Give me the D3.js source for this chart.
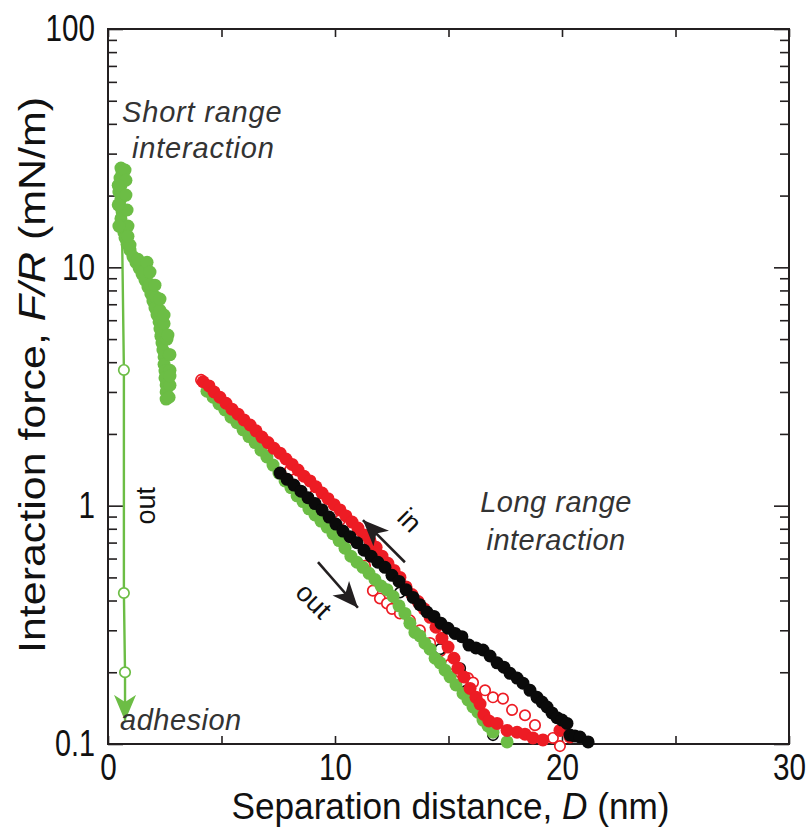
<!DOCTYPE html>
<html>
<head>
<meta charset="utf-8">
<script src="https://cdnjs.cloudflare.com/ajax/libs/d3/7.8.5/d3.min.js"></script>
<style>
  body { margin: 0; background: #fff; }
  svg { display: block; }
</style>
</head>
<body>
<svg id="chart" width="809" height="832"></svg>
<script>
/* Axis ticks */
var xTicks = [0, 5, 10, 15, 20, 25, 30];
var xTickLabels = ["0", "", "10", "", "20", "", "30"];
var yMajor = [0.1, 1, 10, 100];
var yMajorLabels = ["0.1", "1", "10", "100"];

/* Short range, separation (out) - green filled */
var greenShortD = [0.57, 0.62, 0.53, 0.57, 0.48, 0.57, 0.53, 0.62, 0.57, 0.66, 0.70, 0.75, 0.84, 0.97, 1.10, 1.23, 1.37, 1.50, 1.63, 1.76, 1.89, 1.98, 2.07, 2.16, 2.25, 2.29, 2.33, 2.38, 2.42, 2.47, 2.47, 2.51, 2.51, 2.56, 2.56, 2.56,
                   0.75, 0.79, 0.79, 0.84, 0.88, 0.97, 0.88, 1.32, 1.59, 1.85, 2.11, 2.29, 2.47, 2.60, 2.69, 2.73, 2.73, 2.69,
                   0.45, 0.45, 0.48, 1.72, 1.85, 2.07, 2.29, 2.47, 2.64, 2.73, 2.73];
var greenShortF = [26.1, 25.1, 23.7, 22.1, 20.7, 19.4, 18.1, 17.1, 16.0, 14.9, 14.0, 13.3, 12.5, 11.8, 11.1, 10.5, 9.93, 9.37, 8.84, 8.26, 7.73, 7.22, 6.75, 6.31, 5.90, 5.51, 5.14, 4.81, 4.50, 4.21, 3.92, 3.67, 3.44, 3.21, 3.00, 2.80,
                   25.6, 23.2, 20.1, 17.4, 14.9, 12.4, 13.5, 10.8, 9.6, 8.5, 7.5, 6.6, 5.8, 5.0, 4.3, 3.7, 3.2, 2.85,
                   22.1, 18.3, 14.9, 10.5, 9.55, 8.42, 7.36, 6.31, 5.20, 4.30, 3.50];

/* Jump out to adhesion - green open with line */
var greenOutD = [0.62, 0.70, 0.70, 0.75];
var greenOutF = [14.0, 3.71, 0.43, 0.20];

/* Long range - green filled */
var greenD = [4.36, 4.63, 4.89, 5.15, 5.42, 5.68, 5.95, 6.21, 6.48, 6.74, 7.00, 7.27, 7.53, 7.80, 8.06, 8.33, 8.59, 8.85, 9.12, 9.38, 9.65, 9.91, 10.18, 10.44, 10.70, 10.97, 11.23, 11.50, 11.76, 12.03, 12.29, 12.56, 12.82, 13.08, 13.30, 13.52, 13.74, 13.96, 14.19, 14.41, 14.63, 14.85, 15.07, 15.33, 15.64, 15.86, 16.08, 16.30, 16.52, 16.74, 16.96, 17.58];
var greenF = [3.02, 2.85, 2.67, 2.52, 2.35, 2.23, 2.08, 1.95, 1.84, 1.71, 1.60, 1.48, 1.37, 1.27, 1.19, 1.10, 1.04, 0.970, 0.914, 0.862, 0.813, 0.763, 0.714, 0.663, 0.614, 0.579, 0.551, 0.520, 0.49, 0.46, 0.444, 0.416, 0.38, 0.353, 0.321, 0.294, 0.284, 0.265, 0.25, 0.229, 0.219, 0.204, 0.191, 0.177, 0.163, 0.153, 0.143, 0.136, 0.126, 0.119, 0.112, 0.102];

/* Long range - red filled */
var redD = [4.19, 4.45, 4.67, 4.93, 5.20, 5.46, 5.73, 5.99, 6.26, 6.52, 6.78, 7.05, 7.31, 7.58, 7.84, 8.11, 8.37, 8.63, 8.90, 9.16, 9.43, 9.69, 9.96, 10.22, 10.48, 10.75, 11.01, 11.28, 11.54, 11.81, 12.07, 12.33, 12.60, 12.86, 13.13, 13.39, 13.66, 13.92, 14.19, 14.45, 14.71, 14.98, 15.24, 15.42, 15.68, 15.95, 16.21, 16.39, 16.56, 16.78, 17.14, 17.58, 18.02, 18.37, 18.72, 19.16, 19.91, 20.35];
var redF = [3.31, 3.18, 3.00, 2.85, 2.69, 2.54, 2.42, 2.29, 2.18, 2.06, 1.94, 1.84, 1.74, 1.66, 1.57, 1.49, 1.41, 1.33, 1.27, 1.20, 1.13, 1.07, 1.01, 0.96, 0.906, 0.853, 0.805, 0.753, 0.713, 0.669, 0.614, 0.573, 0.535, 0.500, 0.456, 0.424, 0.396, 0.369, 0.340, 0.309, 0.278, 0.255, 0.229, 0.208, 0.191, 0.171, 0.157, 0.147, 0.133, 0.125, 0.122, 0.114, 0.112, 0.110, 0.106, 0.104, 0.114, 0.107];

/* Long range - red open */
var redOpenD = [4.10, 4.58, 5.15, 6.04, 6.92, 8.02, 9.12, 10.22, 10.88, 11.32, 11.67, 11.98, 12.29, 12.51, 12.86, 13.30, 13.74, 14.19, 14.63, 15.07, 15.51, 15.86, 16.08, 16.61, 16.96, 17.40, 17.80, 18.37, 18.81, 19.60, 19.91];
var redOpenF = [3.37, 3.00, 2.64, 2.20, 1.77, 1.41, 1.11, 0.87, 0.72, 0.56, 0.44, 0.408, 0.389, 0.369, 0.353, 0.33, 0.30, 0.265, 0.245, 0.216, 0.200, 0.189, 0.181, 0.168, 0.157, 0.155, 0.139, 0.132, 0.120, 0.106, 0.098];

/* Long range - black filled */
var blackD = [7.58, 7.89, 8.19, 8.50, 8.81, 9.12, 9.43, 9.74, 10.04, 10.35, 10.66, 10.97, 11.28, 11.59, 11.89, 12.20, 12.51, 12.82, 13.13, 13.44, 13.74, 14.05, 14.36, 14.67, 14.98, 15.29, 15.59, 15.90, 16.21, 16.52, 16.83, 17.14, 17.44, 17.71, 18.02, 18.28, 18.59, 18.90, 19.12, 19.34, 19.56, 19.78, 20.00, 20.22, 20.35, 20.57, 20.79, 21.15];
var blackF = [1.37, 1.29, 1.22, 1.15, 1.08, 1.02, 0.96, 0.896, 0.837, 0.782, 0.741, 0.699, 0.65, 0.614, 0.579, 0.551, 0.51, 0.481, 0.444, 0.412, 0.384, 0.358, 0.343, 0.321, 0.306, 0.291, 0.282, 0.26, 0.253, 0.248, 0.234, 0.219, 0.210, 0.198, 0.189, 0.180, 0.168, 0.157, 0.150, 0.143, 0.135, 0.129, 0.126, 0.122, 0.109, 0.108, 0.107, 0.102];

/* Long range - black open */
var blackOpenD = [11.10, 12.86, 14.63, 15.51, 15.81, 16.52, 16.96];
var blackOpenF = [0.699, 0.432, 0.25, 0.208, 0.168, 0.129, 0.109];

/* Settings */
var set = {
  left: 108, right: 789, top: 29, bottom: 744,
  green: "#6cbd45", red: "#ed1c24", black: "#0a0a0a",
  axisColor: "#231f20", noteColor: "#333333",
  r: 6.5, rOpen: 5.2,
  font: "'Liberation Sans', Arial, sans-serif"
};

var svg = d3.select("svg#chart");

var x = d3.scaleLinear().domain([0, 30]).range([set.left, set.right]);
var y = d3.scaleLog().domain([0.1, 100]).range([set.bottom, set.top]);

function pairs(ds, fs) {
  return ds.map((d, i) => ({ D: d, F: fs[i] }));
}

function isMajor(v) {
  var l = Math.log10(v);
  return Math.abs(l - Math.round(l)) < 1e-9;
}

/* condensed look of the tick labels: squeeze text to a digit width */
function squeeze(sel) {
  sel.each(function() {
    var s = d3.select(this).text();
    if (!s) return;
    var w = 0;
    for (var c of s) w += (c === "." ? 7 : 16.5);
    d3.select(this).attr("textLength", w).attr("lengthAdjust", "spacingAndGlyphs");
  });
}

/* Axes */
var bottomAxis = d3.axisBottom(x)
  .tickValues(xTicks)
  .tickSize(-8)
  .tickPadding(10)
  .tickFormat((d, i) => xTickLabels[i]);

var topAxis = d3.axisTop(x).tickValues(xTicks).tickSize(-8).tickFormat("");

var yAll = y.ticks();
var leftAxis = d3.axisLeft(y)
  .tickValues(yAll)
  .tickSize(-9)
  .tickPadding(13)
  .tickFormat(d => {
    var k = yMajor.findIndex(m => Math.abs(Math.log10(m) - Math.log10(d)) < 1e-9);
    return k >= 0 ? yMajorLabels[k] : "";
  });

var rightAxis = d3.axisRight(y).tickValues(yAll).tickSize(-9).tickFormat("");

var gB = svg.append("g").attr("transform", `translate(0,${set.bottom})`).call(bottomAxis);
var gT = svg.append("g").attr("transform", `translate(0,${set.top})`).call(topAxis);
var gL = svg.append("g").attr("transform", `translate(${set.left},0)`).call(leftAxis);
var gR = svg.append("g").attr("transform", `translate(${set.right},0)`).call(rightAxis);

gL.selectAll(".tick line").filter(d => isMajor(d)).attr("x2", 15);
gR.selectAll(".tick line").filter(d => isMajor(d)).attr("x2", -15);

[gB, gT, gL, gR].forEach(g => {
  g.select(".domain").remove();
  g.selectAll(".tick line").attr("stroke", set.axisColor).attr("stroke-width", 1.6);
  g.selectAll(".tick text")
    .attr("fill", "#111")
    .style("font-family", set.font)
    .style("font-size", "37px")
    .call(squeeze);
});

/* Frame */
svg.append("rect")
  .attr("x", set.left).attr("y", set.top)
  .attr("width", set.right - set.left).attr("height", set.bottom - set.top)
  .attr("fill", "none").attr("stroke", set.axisColor).attr("stroke-width", 2);

/* Axis titles */
var xt = svg.append("text")
  .attr("x", (set.left + set.right) / 2 + 2).attr("y", 819)
  .attr("text-anchor", "middle")
  .attr("textLength", 438).attr("lengthAdjust", "spacingAndGlyphs")
  .style("font-family", set.font).style("font-size", "37px").attr("fill", "#111");
xt.append("tspan").text("Separation distance, ");
xt.append("tspan").style("font-style", "italic").text("D");
xt.append("tspan").text(" (nm)");

var yt = svg.append("text")
  .attr("transform", "translate(45,375) rotate(-90)")
  .attr("text-anchor", "middle")
  .attr("textLength", 556).attr("lengthAdjust", "spacingAndGlyphs")
  .style("font-family", set.font).style("font-size", "37px").attr("fill", "#111");
yt.append("tspan").text("Interaction force, ");
yt.append("tspan").style("font-style", "italic").text("F/R");
yt.append("tspan").text(" (mN/m)");

/* Arrow markers */
var defs = svg.append("defs");
[["headGreen", set.green], ["headBlack", "#231f20"]].forEach(m => {
  defs.append("marker")
    .attr("id", m[0]).attr("viewBox", "0 -12 28 24")
    .attr("refX", 26).attr("refY", 0)
    .attr("markerUnits", "userSpaceOnUse")
    .attr("markerWidth", 28).attr("markerHeight", 24)
    .attr("orient", "auto")
    .append("path").attr("d", "M0,-11L26,0L0,11L7,0Z").attr("fill", m[1]);
});

/* Green jump-out line with adhesion arrow */
var outPts = pairs(greenOutD, greenOutF);
var line = d3.line().x(d => x(d.D)).y(d => y(d.F));
svg.append("path")
  .datum(outPts)
  .attr("d", line)
  .attr("fill", "none").attr("stroke", set.green).attr("stroke-width", 2.4);
var lastOut = outPts[outPts.length - 1];
svg.append("line")
  .attr("x1", x(lastOut.D)).attr("y1", y(lastOut.F))
  .attr("x2", x(lastOut.D)).attr("y2", y(0.125))
  .attr("stroke", set.green).attr("stroke-width", 2.4)
  .attr("marker-end", "url(#headGreen)");

/* Data markers */
function drawFilled(ds, fs, color) {
  svg.append("g").selectAll("circle")
    .data(pairs(ds, fs))
    .enter().append("circle")
    .attr("cx", d => x(d.D)).attr("cy", d => y(d.F))
    .attr("r", set.r)
    .attr("fill", color);
}

function drawOpen(ds, fs, color) {
  svg.append("g").selectAll("circle")
    .data(pairs(ds, fs))
    .enter().append("circle")
    .attr("cx", d => x(d.D)).attr("cy", d => y(d.F))
    .attr("r", set.rOpen)
    .attr("fill", "#fff")
    .attr("stroke", color).attr("stroke-width", 1.7);
}

drawFilled(greenShortD, greenShortF, set.green);
drawOpen(greenOutD.slice(1), greenOutF.slice(1), set.green);
drawOpen(redOpenD, redOpenF, set.red);
drawOpen(blackOpenD, blackOpenF, set.black);
drawFilled(greenD, greenF, set.green);
drawFilled(redD, redF, set.red);
drawFilled(blackD, blackF, set.black);

/* Direction arrows */
svg.append("line")
  .attr("x1", x(13.08)).attr("y1", y(0.579))
  .attr("x2", x(11.23)).attr("y2", y(0.87))
  .attr("stroke", "#231f20").attr("stroke-width", 2.6)
  .attr("marker-end", "url(#headBlack)");
svg.append("line")
  .attr("x1", x(9.25)).attr("y1", y(0.579))
  .attr("x2", x(11.01)).attr("y2", y(0.373))
  .attr("stroke", "#231f20").attr("stroke-width", 2.6)
  .attr("marker-end", "url(#headBlack)");

/* Annotations */
function note(txt, D, F, opts) {
  var t = svg.append("text")
    .attr("x", x(D)).attr("y", y(F))
    .attr("text-anchor", opts.anchor || "start")
    .style("font-family", set.font)
    .style("font-size", (opts.size || 29) + "px")
    .style("font-style", opts.italic ? "italic" : "normal")
    .attr("fill", opts.color || set.noteColor)
    .text(txt);
  if (opts.rotate) {
    t.attr("transform", `rotate(${opts.rotate},${x(D)},${y(F)})`);
  }
  return t;
}

note("Short range", 0.62, 40.7, { italic: true, size: 29 }).attr("letter-spacing", 0.8);
note("interaction", 1.06, 28.7, { italic: true, size: 29 }).attr("letter-spacing", 0.8);
note("Long range", 19.74, 0.94, { italic: true, size: 29, anchor: "middle" }).attr("letter-spacing", 0.5);
note("interaction", 19.74, 0.65, { italic: true, size: 29, anchor: "middle" }).attr("letter-spacing", 0.5);
note("adhesion", 0.53, 0.114, { italic: true, size: 29 }).attr("letter-spacing", 0.5);
note("out", 1.67, 1.0, { size: 27, anchor: "middle", rotate: -90, color: "#111" }).attr("dy", "0.35em");
note("in", 13.3, 0.87, { size: 27, anchor: "middle", rotate: 45, color: "#111" }).attr("dy", "0.35em");
note("out", 9.07, 0.40, { size: 27, anchor: "middle", rotate: 45, color: "#111" }).attr("dy", "0.35em");
</script>
</body>
</html>
